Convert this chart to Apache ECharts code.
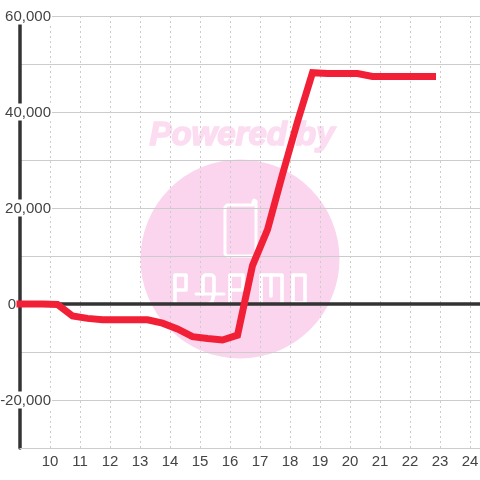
<!DOCTYPE html>
<html>
<head>
<meta charset="utf-8">
<style>html,body{margin:0;padding:0;background:#fff}#c{width:480px;height:480px}</style>
<script src="https://cdn.jsdelivr.net/npm/echarts@6/dist/echarts.min.js"></script>
</head>
<body>
<div id="c"></div>
<script>
const hours = [9,9.25,9.75,10.25,10.75,11.25,11.75,12.25,12.75,13.25,13.75,14.25,14.75,15.25,15.75,16.25,16.75,17.25,17.75,18.25,18.75,19.25,19.75,20.25,20.75,21.25,21.75,22.25,22.75];
const values = [0,0,0,-100,-2500,-3000,-3300,-3300,-3300,-3300,-4000,-5200,-6800,-7200,-7500,-6500,8000,15500,27000,38000,48200,48000,48000,48000,47400,47400,47400,47400,47400];
const yLabelled = [60000,40000,20000,0,-20000];
const pink = '#fbd5ee';
const pinkText = '#fcdcf0';

const chart = echarts.init(document.getElementById('c'), null, {renderer:'canvas'});
const logoLine = (points, w) => ({
  type: 'polyline', z: -1, silent: true,
  shape: {points},
  style: {fill: 'none', stroke: '#fff', lineWidth: w || 3.6, lineJoin: 'round', lineCap: 'round'}
});
chart.setOption({
  animation: false,
  backgroundColor: '#fff',
  grid: {left: 20, right: 0, top: 16, bottom: 32, containLabel: false, outerBoundsMode: 'none'},
  xAxis: [{
    type: 'value', min: 9, max: 9 + 460/30, interval: 1, position: 'bottom',
    axisLine: {onZero: false, show: true, lineStyle: {color: '#ccc', width: 1}},
    axisTick: {show: false},
    axisLabel: {
      color: '#444', fontSize: 15, fontFamily: '"Liberation Sans", Arial, sans-serif', margin: 6,
      showMinLabel: false, hideOverlap: false,
      formatter: v => (Number.isInteger(v) && v > 9) ? String(v) : ''
    },
    splitLine: {show: true, lineStyle: {color: '#ccc', type: [2, 3], width: 1}}
  }, {
    type: 'value', min: 9, max: 9 + 460/30, interval: 1, position: 'bottom',
    axisLine: {onZero: true, show: true, lineStyle: {color: '#333', width: 3.5}},
    axisTick: {show: false}, axisLabel: {show: false}, splitLine: {show: false}
  }],
  yAxis: {
    type: 'value', min: -30000, max: 60000, interval: 10000, position: 'left',
    axisLine: {show: true, onZero: false, lineStyle: {color: '#333', width: 3.5}},
    axisTick: {show: false},
    axisLabel: {
      margin: -32, fontSize: 15, color: '#444', fontFamily: '"Liberation Sans", Arial, sans-serif',
      showMinLabel: true, showMaxLabel: true, hideOverlap: false,
      formatter: v => {
        if (!yLabelled.includes(v)) return '';
        if (v === 0) return '{z|0}';
        return '{a|' + echarts.format.addCommas(v) + '}';
      },
      rich: {
        a: {backgroundColor: '#fff', fontSize: 15, color: '#444', padding: [1, 1, 0, 1], height: 16, lineHeight: 16},
        z: {fontSize: 15, color: '#444', padding: [1, 36, 0, 0], height: 16, lineHeight: 16}
      }
    },
    splitLine: {show: true, lineStyle: {color: '#ccc', width: 1}}
  },
  graphic: {elements: [
    {type: 'circle', z: -1, silent: true, shape: {cx: 240, cy: 259, r: 99.5}, style: {fill: pink}},
    {type: 'text', z: -1, silent: true, x: 242, y: 136,
      style: {text: 'Powered by', fill: pinkText, stroke: pinkText, lineWidth: 1.6, font: 'italic bold 33px "Liberation Sans", Arial, sans-serif', textAlign: 'center', textVerticalAlign: 'middle'}},
    logoLine([[245,205],[227,205],[225,207],[225,254],[227,256],[254,256],[256,254],[256,201],[254,200],[253,202],[253,205],[245,205]], 3),
    logoLine([[175,303],[175,275],[186,275],[186,290],[175,290]]),
    logoLine([[203,294],[203,277],[205,275],[212,275],[214,277],[214,294],[212,302],[208,304]]),
    logoLine([[196,294],[224,294]], 3),
    logoLine([[230,303],[230,275],[243,275],[243,290],[230,290]]),
    logoLine([[261,303],[261,275],[282,275],[282,303]]),
    logoLine([[271,275],[271,296]]),
    logoLine([[293,275],[305,275],[305,303],[293,303],[293,275]])
  ]},
  series: [{
    type: 'line', xAxisIndex: 0, data: hours.map((h, i) => [h, values[i]]),
    showSymbol: false, symbol: 'none', smooth: false, z: 5, clip: false,
    lineStyle: {color: '#f22037', width: 7, cap: 'square', join: 'miter'}
  }]
});
</script>
</body>
</html>
